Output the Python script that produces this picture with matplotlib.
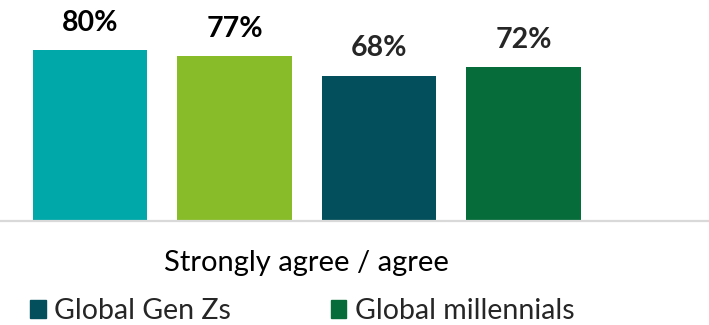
import matplotlib.pyplot as plt
from matplotlib.patches import Patch

# survey results, share answering "strongly agree / agree"
category = "Strongly agree / agree"
values = [80, 77, 68, 72]
bar_colors = ["#00A8A9", "#88BC29", "#034F5B", "#066D3A"]
label_colors = ["#000000", "#000000", "#262626", "#262626"]
legend_names = ["Global Gen Zs", "Global millennials"]
legend_colors = ["#034F5B", "#066D3A"]

plt.rcParams['font.family'] = ['Lato', 'DejaVu Sans']

fig = plt.figure(figsize=(7.09, 3.25), dpi=100)
ax = fig.add_axes([0, 0.32, 1, 0.68])

xs = range(len(values))
bars = ax.bar(xs, values, width=0.79, color=bar_colors)

for b, v, c in zip(bars, values, label_colors):
    ax.annotate(f"{v}%", (b.get_x() + b.get_width() / 2, v),
                xytext=(0, 14), textcoords="offset points",
                ha="center", va="baseline", fontsize=20.5,
                fontweight="bold", color=c)

ax.set_xlim(-0.623, 4.284)
ax.set_ylim(0, 103.4)
for s in ["top", "left", "right"]:
    ax.spines[s].set_visible(False)
ax.spines["bottom"].set_color("#D9D9D9")
ax.spines["bottom"].set_linewidth(1.6)
ax.set_yticks([])
ax.set_xticks([1.5])
ax.set_xticklabels([category], fontsize=21, color="#000000")
ax.tick_params(axis="x", length=0, pad=21)

handles = [Patch(color=c) for c in legend_colors]
fig.legend(handles, legend_names, loc="center left",
           bbox_to_anchor=(30 / 709, 14 / 325), bbox_transform=fig.transFigure,
           ncol=2, frameon=False, fontsize=20.5, labelcolor="#262626",
           handlelength=0.55, handleheight=0.55, handletextpad=0.3,
           columnspacing=3.5, borderpad=0, borderaxespad=0)

fig.savefig("out.png", dpi=100)
